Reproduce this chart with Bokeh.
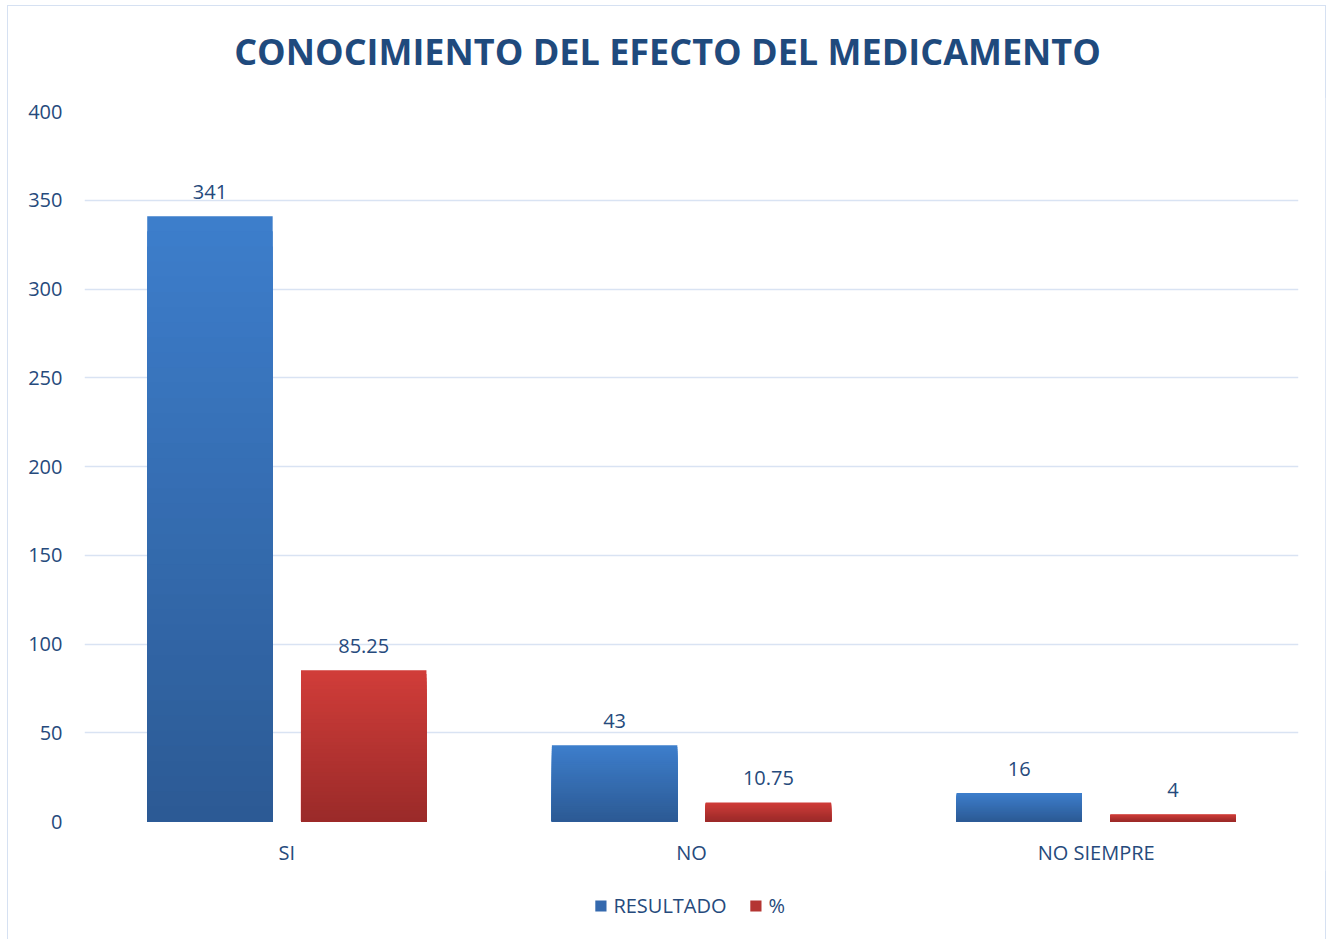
from bokeh.plotting import figure
from bokeh.models import (ColumnDataSource, FactorRange, Range1d, Legend, LegendItem,
                          LabelSet, FixedTicker, Div)
from bokeh.layouts import column
from bokeh.core.properties import value
from bokeh.transform import dodge
from bokeh.embed import file_html
from bokeh.resources import INLINE

# ---- data ----
title_text = "CONOCIMIENTO DEL EFECTO DEL MEDICAMENTO"
categories = ["SI", "NO", "NO SIEMPRE"]
resultado = [341, 43, 16]
porcentaje = [85.25, 10.75, 4]
resultado_labels = ["341", "43", "16"]
porcentaje_labels = ["85.25", "10.75", "4"]
y_ticks = [0, 50, 100, 150, 200, 250, 300, 350, 400]
series_names = ["RESULTADO", "%"]

FONT = "Open Sans"
TEXT_COLOR = "#264A7C"
TITLE_COLOR = "#1F4A7D"
GRID_COLOR = "#D9E3F3"
BLUE_TOP, BLUE_BOTTOM = (0x3D, 0x7E, 0xCC), (0x2C, 0x5A, 0x94)
RED_TOP, RED_BOTTOM = (0xD1, 0x3D, 0x39), (0x9A, 0x2A, 0x29)
BLUE_MID, RED_MID = "#3469AE", "#B43532"
N_STEPS = 40
OFFSET, BAR_W = 0.19, 0.31
W = 1319


def hexcol(c):
    return "#%02x%02x%02x" % tuple(int(round(v)) for v in c)


def gradient_source(values, top_c, bot_c):
    # nested bars from the baseline: tallest (top colour) first, shorter ones painted over it
    xs, tops, colors = [], [], []
    for k in range(N_STEPS):
        frac = (N_STEPS - k) / N_STEPS
        t = (N_STEPS - k - 0.5) / N_STEPS
        col = hexcol([b + (a - b) * t for a, b in zip(top_c, bot_c)])
        for cat, v in zip(categories, values):
            xs.append(cat)
            tops.append(v * frac)
            colors.append(col)
    return ColumnDataSource(dict(cat=xs, top=tops, color=colors))


# ---- title ----
title = Div(text=('<div style="width:%dpx;height:91px;line-height:91px;text-align:center;'
                  'font-family:\'Open Sans\';font-weight:bold;font-size:36px;color:%s;'
                  'white-space:nowrap;">%s</div>') % (W, TITLE_COLOR, title_text),
            width=W, height=91, styles={"margin": "0", "padding": "0"})

# ---- main chart ----
lab_src = ColumnDataSource(dict(cat=categories, res=resultado, pct=porcentaje,
                                res_lab=resultado_labels, pct_lab=porcentaje_labels))

p = figure(x_range=FactorRange(*categories, range_padding=0), y_range=Range1d(0, 400),
           frame_width=1216, frame_height=710, output_backend="svg", toolbar_location=None,
           min_border_left=76, min_border_right=27, min_border_top=14, min_border_bottom=50)

renderers = []
for vals, tc, bc, xoff in [(resultado, BLUE_TOP, BLUE_BOTTOM, -OFFSET),
                           (porcentaje, RED_TOP, RED_BOTTOM, OFFSET)]:
    s = gradient_source(vals, tc, bc)
    r = p.vbar(x=dodge("cat", xoff, range=p.x_range), bottom=0, top="top", width=BAR_W,
               source=s, fill_color="color", line_color=None)
    renderers.append(r)

for xoff, col, lab in [(-OFFSET, "res", "res_lab"), (OFFSET, "pct", "pct_lab")]:
    ls = LabelSet(x=dodge("cat", xoff, range=p.x_range), y=col, text=lab, source=lab_src,
                  text_align="center", text_baseline="alphabetic", y_offset=17,
                  text_font=value(FONT), text_font_size=value("20px"), text_color=TEXT_COLOR)
    p.add_layout(ls)

p.yaxis.ticker = FixedTicker(ticks=y_ticks)
for ax in (p.xaxis, p.yaxis):
    ax.axis_line_color = None
    ax.major_tick_line_color = None
    ax.minor_tick_line_color = None
    ax.major_tick_out = 0
    ax.major_tick_in = 0
    ax.major_label_text_font = FONT
    ax.major_label_text_font_size = "20px"
    ax.major_label_text_color = TEXT_COLOR
p.yaxis.major_label_standoff = 22
p.xaxis.major_label_standoff = 17

p.xgrid.grid_line_color = None
p.ygrid.grid_line_color = GRID_COLOR
p.ygrid.grid_line_width = 1.5
p.outline_line_color = None

# ---- legend strip (its swatch glyphs sit outside the strip's visible range) ----
pl = figure(width=W, height=68, x_range=Range1d(0, 1), y_range=Range1d(0, 1),
            output_backend="svg", toolbar_location=None,
            min_border_left=0, min_border_right=21, min_border_top=0, min_border_bottom=0)
pl.axis.visible = False
pl.grid.visible = False
pl.outline_line_color = None
swatch = ColumnDataSource(dict(x=[-5], top=[-5]))
lr1 = pl.vbar(x="x", top="top", width=0.1, source=swatch, fill_color=BLUE_MID, line_color=None)
lr2 = pl.vbar(x="x", top="top", width=0.1, source=swatch, fill_color=RED_MID, line_color=None)
legend = Legend(items=[LegendItem(label=series_names[0], renderers=[lr1]),
                       LegendItem(label=series_names[1], renderers=[lr2])],
                orientation="horizontal", location="center",
                label_text_font=FONT, label_text_font_size="20px", label_text_color=TEXT_COLOR,
                glyph_width=14, glyph_height=14, spacing=22, label_standoff=6,
                border_line_color=None, background_fill_alpha=0, padding=4, margin=0)
pl.add_layout(legend, "center")

layout = column(title, p, pl, spacing=0)
layout.styles = {"border": "1.5px solid #D6E1F2", "border-bottom": "none",
                 "margin-left": "7px", "margin-top": "5px", "width": "%dpx" % W}

open("out.html", "w").write(file_html(layout, INLINE))
